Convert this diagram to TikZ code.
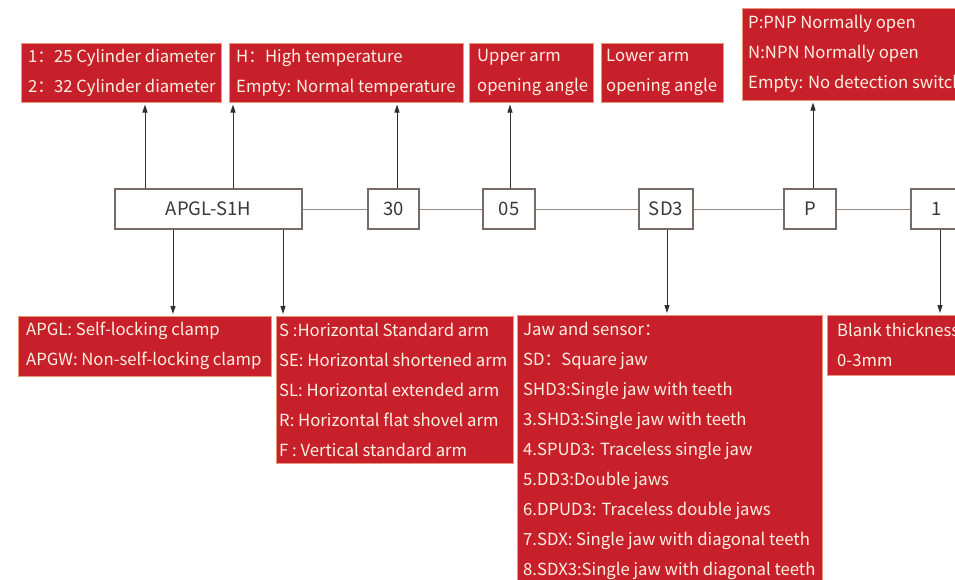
\documentclass[tikz,border=0pt]{standalone}
\usepackage{fontspec}
\setmainfont{Noto Sans CJK SC}
\usetikzlibrary{arrows.meta}
\definecolor{boxred}{RGB}{200,32,42}
\definecolor{redline}{RGB}{235,150,120}
\definecolor{cream}{RGB}{255,240,228}
\definecolor{midline}{RGB}{120,106,100}
\definecolor{linkgray}{RGB}{150,140,135}
\definecolor{midtext}{RGB}{60,55,55}
\definecolor{arrgray}{RGB}{50,45,45}
\begin{document}
\begin{tikzpicture}[x=1pt,y=-1pt,
  redbox/.style={draw=redline, fill=boxred, line width=0.6pt, anchor=north west, inner sep=0pt},
  redtext/.style={text=cream, anchor=west, inner sep=0pt, align=left, font=\fontsize{16.7}{30}\selectfont},
  midbox/.style={draw=midline, fill=white, line width=1.4pt, minimum height=40pt, inner sep=0pt, text=midtext, font=\fontsize{18.5}{22}\selectfont},
  link/.style={draw=linkgray, line width=0.9pt},
  arr/.style={draw=arrgray, line width=0.9pt, -{Triangle[width=5pt,length=8pt]}}
]
\useasboundingbox (0,0) rectangle (955,579);

% middle row
\node[midbox, minimum width=187pt] (m1) at (208.5,209) {APGL-S1H};
\node[midbox, minimum width=51pt] (m2) at (393.5,209) {30};
\node[midbox, minimum width=52pt] (m3) at (509,209) {05};
\node[midbox, minimum width=54pt] (m4) at (666,209) {SD3};
\node[midbox, minimum width=52pt] (m5) at (810,209) {P};
\node[midbox, minimum width=52pt] (m6) at (937,209) {1};
\draw[link] (m1.east) -- (m2.west);
\draw[link] (m2.east) -- (m3.west);
\draw[link] (m3.east) -- (m4.west);
\draw[link] (m4.east) -- (m5.west);
\draw[link] (m5.east) -- (m6.west);

% top boxes
\node[redbox, minimum width=200pt, minimum height=59pt] (t1) at (21,43) {};
\node[redtext] at ([xshift=7pt]t1.west) {1：25 Cylinder diameter\\2：32 Cylinder diameter};
\node[redbox, minimum width=234pt, minimum height=59pt] (t2) at (229,43) {};
\node[redtext] at ([xshift=7pt]t2.west) {H：High temperature\\Empty: Normal temperature};
\node[redbox, minimum width=124pt, minimum height=59pt] (t3) at (469,43) {};
\node[redtext] at ([xshift=8pt]t3.west) {Upper arm\\opening angle};
\node[redbox, minimum width=122pt, minimum height=59pt] (t4) at (601,43) {};
\node[redtext] at ([xshift=5pt]t4.west) {Lower arm\\opening angle};
\node[redbox, minimum width=260pt, minimum height=92pt] (t5) at (742,8) {};
\node[redtext] at ([xshift=6pt]t5.west) {P:PNP Normally open\\N:NPN Normally open\\Empty: No detection switch};

% bottom boxes
\node[redbox, minimum width=253pt, minimum height=60pt] (b1) at (18,316) {};
\node[redtext] at ([xshift=8pt]b1.west) {APGL: Self-locking clamp\\APGW: Non-self-locking clamp};
\node[redbox, minimum width=237pt, minimum height=147pt] (b2) at (276,316) {};
\node[redtext] at ([xshift=3pt]b2.west) {S :Horizontal Standard arm\\SE: Horizontal shortened arm\\SL: Horizontal extended arm\\R: Horizontal flat shovel arm\\F : Vertical standard arm};
\node[redbox, minimum width=305pt, minimum height=272pt] (b3) at (517,315) {};
\node[redtext] at ([xshift=6pt]b3.west) {Jaw and sensor：\\SD：Square jaw\\SHD3:Single jaw with teeth\\3.SHD3:Single jaw with teeth\\4.SPUD3: Traceless single jaw\\5.DD3:Double jaws\\6.DPUD3: Traceless double jaws\\7.SDX: Single jaw with diagonal teeth\\8.SDX3:Single jaw with diagonal teeth};
\node[redbox, minimum width=200pt, minimum height=60pt] (b4) at (827,315) {};
\node[redtext] at ([xshift=10pt]b4.west) {Blank thickness\\0-3mm};

% arrow positions
\coordinate (u1) at (145,0);
\coordinate (u2) at (233,0);
\coordinate (u3) at (397,0);
\coordinate (u4) at (510,0);
\coordinate (u5) at (813,0);
\coordinate (d1) at (173,0);
\coordinate (d2) at (283,0);
\coordinate (d3) at (667,0);
\coordinate (d4) at (940,0);

\draw[arr] (m1.north -| u1) -- ([yshift=-2pt]t1.south -| u1);
\draw[arr] (m1.north -| u2) -- ([yshift=-2pt]t2.south -| u2);
\draw[arr] (m2.north -| u3) -- ([yshift=-2pt]t2.south -| u3);
\draw[arr] (m3.north -| u4) -- ([yshift=-2pt]t3.south -| u4);
\draw[arr] (m5.north -| u5) -- ([yshift=-2pt]t5.south -| u5);
\draw[arr] (m1.south -| d1) -- ([yshift=2pt]b1.north -| d1);
\draw[arr] (m1.south -| d2) -- ([yshift=2pt]b2.north -| d2);
\draw[arr] (m4.south -| d3) -- ([yshift=2pt]b3.north -| d3);
\draw[arr] (m6.south -| d4) -- ([yshift=2pt]b4.north -| d4);
\end{tikzpicture}
\end{document}
